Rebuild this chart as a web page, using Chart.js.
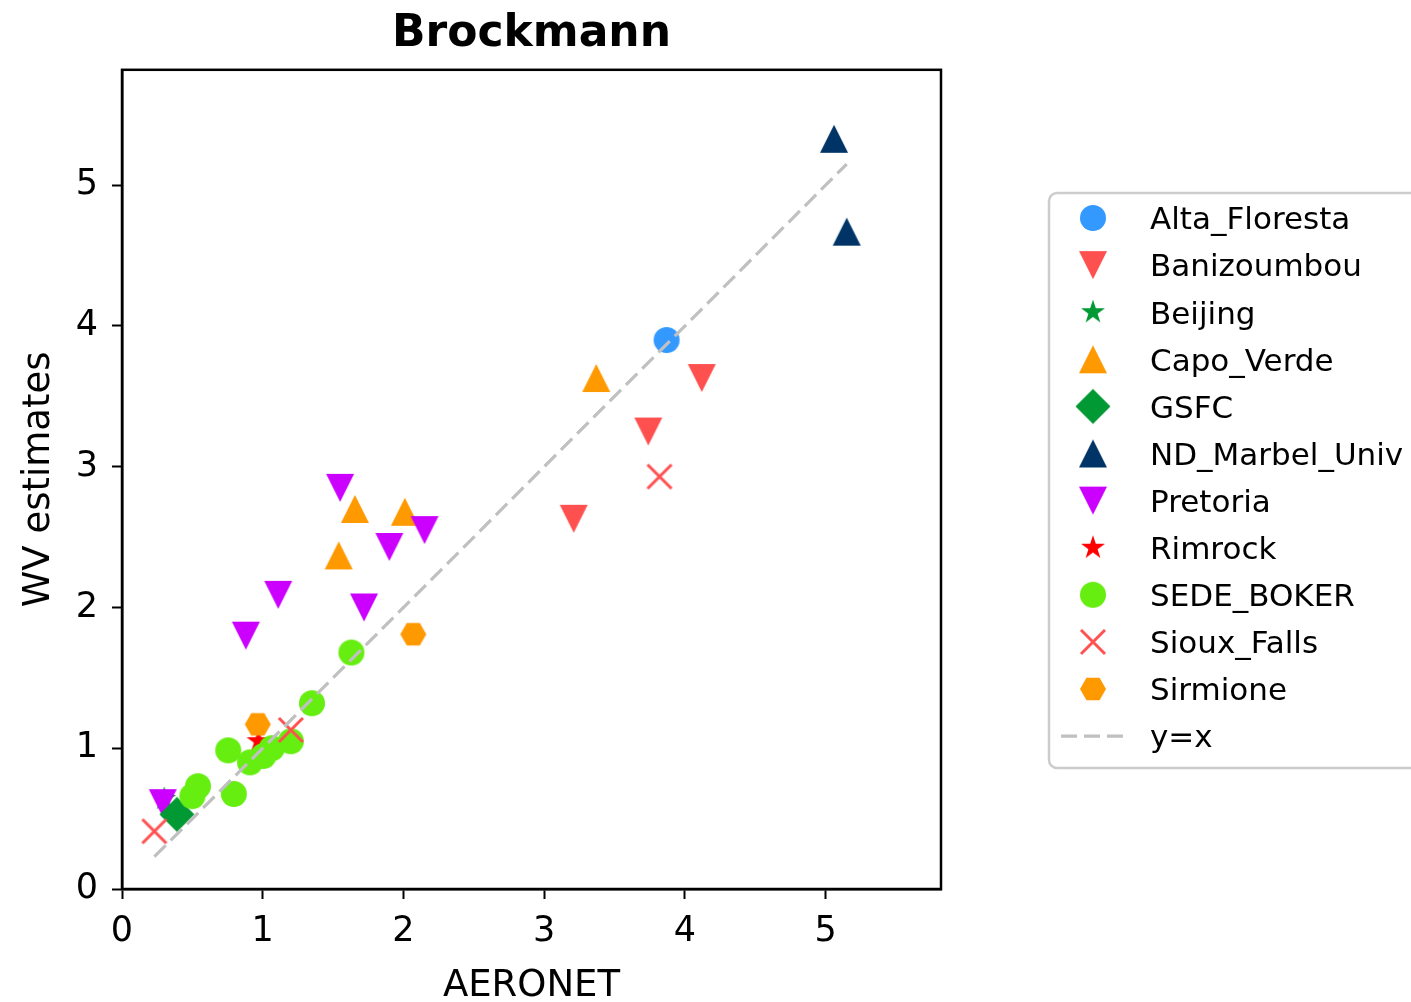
<!DOCTYPE html>
<html>
<head>
<meta charset="utf-8">
<script src="https://cdn.jsdelivr.net/npm/chart.js@4/dist/chart.umd.min.js"></script>
<style>
html,body{margin:0;padding:0;background:#fff;}
#wrap{width:1411px;height:1002px;}
</style>
</head>
<body>
<div id="wrap"><canvas id="c" width="1411" height="1002"></canvas></div>
<script>
// ---- data ----
const seriesNames = ["Alta_Floresta","Banizoumbou","Beijing","Capo_Verde","GSFC","ND_Marbel_Univ","Pretoria","Rimrock","SEDE_BOKER","Sioux_Falls","Sirmione"];
const altaX = [3.87];            const altaY = [3.90];
const baniX = [4.12, 3.74, 3.21]; const baniY = [3.63, 3.25, 2.63];
const beijingX = [0.30];         const beijingY = [0.64];
const capoX = [3.37, 1.655, 2.01, 1.54]; const capoY = [3.63, 2.70, 2.68, 2.37];
const gsfcX = [0.39];            const gsfcY = [0.53];
const ndX = [5.06, 5.15];        const ndY = [5.33, 4.67];
const pretX = [1.55, 2.15, 1.90, 1.11, 1.72, 0.88, 0.29];
const pretY = [2.85, 2.55, 2.43, 2.09, 2.00, 1.80, 0.61];
const rimX = [0.97];             const rimY = [1.05];
const sedeX = [1.63, 1.35, 0.755, 0.795, 0.91, 1.005, 1.065, 1.20, 0.54, 0.50];
const sedeY = [1.68, 1.32, 0.985, 0.675, 0.90, 0.945, 1.00, 1.05, 0.73, 0.66];
const siouxX = [3.82, 0.23, 1.20]; const siouxY = [2.93, 0.41, 1.13];
const sirmX = [2.07, 0.965];     const sirmY = [1.81, 1.17];
const tickVals = [0, 1, 2, 3, 4, 5];
const axisMax = 5.82;
const titleText = "Brockmann";
const xLabel = "AERONET";
const yLabel = "WV estimates";
const lineLabel = "y=x";

// ---- marker images ----
function mk(shape, color){
  const S = 40; const c = document.createElement('canvas'); c.width = S; c.height = S;
  const g = c.getContext('2d'); const cx = S/2, cy = S/2;
  g.fillStyle = color; g.strokeStyle = color;
  g.beginPath();
  if (shape === 'circle'){ g.arc(cx, cy, 13, 0, Math.PI*2); g.fill(); }
  else if (shape === 'tdown'){ g.moveTo(cx-14, cy-14); g.lineTo(cx+14, cy-14); g.lineTo(cx, cy+14); g.closePath(); g.fill(); }
  else if (shape === 'tup'){ g.moveTo(cx-14, cy+14); g.lineTo(cx+14, cy+14); g.lineTo(cx, cy-14); g.closePath(); g.fill(); }
  else if (shape === 'star'){
    const R = 12.6, r = R*0.381966;
    for (let i=0;i<10;i++){ const a = -Math.PI/2 + i*Math.PI/5; const rr = i%2?r:R;
      const px = cx + rr*Math.cos(a), py = cy + rr*Math.sin(a); i?g.lineTo(px,py):g.moveTo(px,py); }
    g.closePath(); g.fill();
  }
  else if (shape === 'diamond'){ const h=17.5; g.moveTo(cx, cy-h); g.lineTo(cx+h, cy); g.lineTo(cx, cy+h); g.lineTo(cx-h, cy); g.closePath(); g.fill(); }
  else if (shape === 'hex'){ const R=13; for(let i=0;i<6;i++){ const a=i*Math.PI/3; const px=cx+R*Math.cos(a), py=cy+R*Math.sin(a); i?g.lineTo(px,py):g.moveTo(px,py);} g.closePath(); g.fill(); }
  else if (shape === 'x'){ g.lineWidth = 3; const h=12; g.moveTo(cx-h,cy-h); g.lineTo(cx+h,cy+h); g.moveTo(cx+h,cy-h); g.lineTo(cx-h,cy+h); g.stroke(); }
  return c;
}

const styles = [
  ['circle','#3399ff'], ['tdown','#ff5050'], ['star','#009933'], ['tup','#ff9900'],
  ['diamond','#009933'], ['tup','#003366'], ['tdown','#cc00ff'], ['star','#ff0000'],
  ['circle','#66ee11'], ['x','#ff5050'], ['hex','#ff9900']
];
const xs = [altaX, baniX, beijingX, capoX, gsfcX, ndX, pretX, rimX, sedeX, siouxX, sirmX];
const ys = [altaY, baniY, beijingY, capoY, gsfcY, ndY, pretY, rimY, sedeY, siouxY, sirmY];
// drawing order (bottom -> top)
const drawRank = [0,1,2,3,6,5,4,7,8,9,10]; // higher = on top (GSFC above Pretoria)
const imgs = styles.map(s => mk(s[0], s[1]));

const datasets = seriesNames.map((n, i) => ({
  label: n, type: 'scatter',
  data: xs[i].map((x, k) => ({x: x, y: ys[i][k]})),
  pointStyle: imgs[i], pointRadius: 13, pointHoverRadius: 13,
  backgroundColor: styles[i][1], borderColor: styles[i][1],
  order: 20 - drawRank[i]
}));
const allX = [].concat(...xs);
const lo = Math.min(...allX), hi = Math.max(...allX);
datasets.push({
  label: lineLabel, type: 'line',
  data: [{x: lo, y: lo}, {x: hi, y: hi}],
  borderColor: '#c0c0c0', borderWidth: 3.2, borderDash: [16, 7],
  pointRadius: 0, fill: false, order: 0
});

const FONT = "'DejaVu Sans', sans-serif";

const framePlugin = {
  id: 'frame',
  afterDatasetsDraw(chart){
    const {ctx, chartArea: a} = chart;
    ctx.save(); ctx.strokeStyle = '#000'; ctx.lineWidth = 2.5;
    ctx.strokeRect(a.left, a.top, a.right - a.left, a.bottom - a.top);
    ctx.restore();
  }
};

const legendPlugin = {
  id: 'customLegend',
  afterDraw(chart){
    const ctx = chart.ctx;
    ctx.save();
    const bx = 1049, by = 193, bw = 420, bh = 575, r = 8;
    ctx.beginPath();
    ctx.moveTo(bx + r, by); ctx.lineTo(bx + bw - r, by); ctx.arcTo(bx+bw, by, bx+bw, by+r, r);
    ctx.lineTo(bx + bw, by + bh - r); ctx.arcTo(bx+bw, by+bh, bx+bw-r, by+bh, r);
    ctx.lineTo(bx + r, by + bh); ctx.arcTo(bx, by+bh, bx, by+bh-r, r);
    ctx.lineTo(bx, by + r); ctx.arcTo(bx, by, bx+r, by, r); ctx.closePath();
    ctx.fillStyle = 'rgba(255,255,255,0.8)'; ctx.fill();
    ctx.strokeStyle = '#cccccc'; ctx.lineWidth = 2.5; ctx.stroke();
    const y0 = 218, dy = 47.1, mx = 1093, tx = 1150;
    ctx.font = "31px " + FONT; ctx.fillStyle = '#000'; ctx.textBaseline = 'alphabetic'; ctx.textAlign = 'left';
    chart.data.datasets.forEach((ds, i) => {
      const y = y0 + i*dy;
      if (ds.type === 'line'){
        ctx.save(); ctx.strokeStyle = ds.borderColor; ctx.lineWidth = ds.borderWidth; ctx.setLineDash(ds.borderDash);
        ctx.beginPath(); ctx.moveTo(1061, y); ctx.lineTo(1125, y); ctx.stroke(); ctx.restore();
      } else {
        const im = ds.pointStyle; ctx.drawImage(im, mx - im.width/2, y - im.height/2);
      }
      ctx.fillText(ds.label, tx, y + 11.3);
    });
    ctx.restore();
  }
};

new Chart(document.getElementById('c'), {
  type: 'scatter',
  data: { datasets: datasets },
  options: {
    responsive: false, animation: false, devicePixelRatio: 1,
    layout: { padding: { left: 0, right: 470, top: 0, bottom: 0 } },
    plugins: {
      legend: { display: false }, tooltip: { enabled: false },
      title: { display: true, text: titleText, fullSize: false, color: '#000',
        font: { family: FONT, size: 44, weight: 'bold', lineHeight: 1.2 },
        padding: { top: 8, bottom: 9 } }
    },
    scales: {
      x: {
        type: 'linear', min: 0, max: axisMax,
        afterBuildTicks: s => { s.ticks = tickVals.map(v => ({value: v})); },
        afterFit: s => { s.height = 113; },
        ticks: { color: '#000', font: { family: FONT, size: 35 }, padding: 12, maxRotation: 0, callback: v => String(v) },
        grid: { drawOnChartArea: false, drawTicks: true, tickLength: 10, tickWidth: 2, tickColor: '#000' },
        border: { display: true, color: '#000', width: 2.5 },
        title: { display: true, text: xLabel, color: '#000', font: { family: FONT, size: 37, lineHeight: 0.86 }, padding: { top: 0, bottom: 0 } }
      },
      y: {
        type: 'linear', min: 0, max: axisMax,
        afterBuildTicks: s => { s.ticks = tickVals.map(v => ({value: v})); },
        afterFit: s => { s.width = 122; },
        ticks: { color: '#000', font: { family: FONT, size: 35 }, padding: 14, callback: v => String(v) },
        grid: { drawOnChartArea: false, drawTicks: true, tickLength: 10, tickWidth: 2, tickColor: '#000' },
        border: { display: true, color: '#000', width: 2.5 },
        title: { display: true, text: yLabel, color: '#000', font: { family: FONT, size: 37, lineHeight: 1 }, padding: { top: 21, bottom: 0 } }
      }
    }
  },
  plugins: [framePlugin, legendPlugin]
});
</script>
</body>
</html>
